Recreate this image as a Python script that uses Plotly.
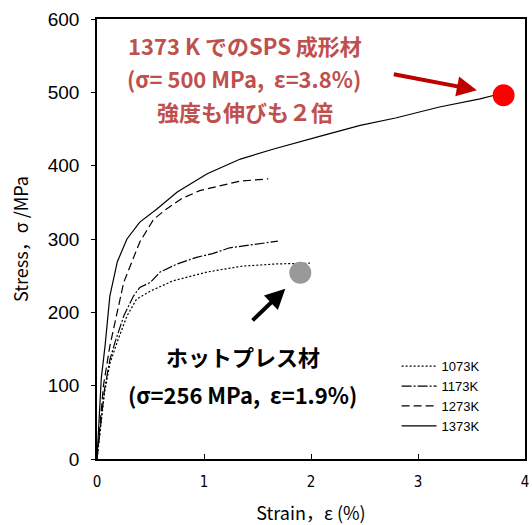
import plotly.graph_objects as go

# Data
temps = ["1073K", "1173K", "1273K", "1373K"]

strain_1073 = [0, 0.03, 0.07, 0.12, 0.19, 0.28, 0.37, 0.5, 0.71, 1.03, 1.36, 1.68, 1.99]
stress_1073 = [0, 40, 90, 130, 160, 195, 218, 229, 243, 255, 263, 266, 267]

strain_1173 = [0, 0.03, 0.07, 0.12, 0.17, 0.25, 0.34, 0.4, 0.5, 0.59, 0.75, 0.93, 1.08, 1.24, 1.5, 1.69]
stress_1173 = [0, 45, 95, 135, 160, 195, 222, 234, 241, 255, 266, 275, 280, 288, 293, 297]

strain_1273 = [0, 0.03, 0.06, 0.12, 0.25, 0.4, 0.53, 0.65, 0.79, 0.96, 1.18, 1.34, 1.6]
stress_1273 = [0, 50, 100, 154, 241, 296, 327, 341, 355, 366, 374, 379, 382]

strain_1373 = [0, 0.02, 0.04, 0.075, 0.12, 0.19, 0.28, 0.4, 0.56, 0.75, 1.03, 1.34, 1.66, 2.08, 2.46, 2.79, 3.2, 3.58, 3.74]
stress_1373 = [0, 55, 110, 154, 222, 269, 300, 323, 341, 364, 389, 409, 423, 440, 455, 465, 480, 491, 497]

sps_strain = [3.80]
sps_stress = [496]
hp_strain = [1.90]
hp_stress = [254]

x_ticks = [0, 1, 2, 3, 4]
y_ticks = [0, 100, 200, 300, 400, 500, 600]

fig = go.Figure()
styles = [("1073K", strain_1073, stress_1073, "2px,2px"),
          ("1173K", strain_1173, stress_1173, "10px,2px,2px,2px"),
          ("1273K", strain_1273, stress_1273, "8px,4px"),
          ("1373K", strain_1373, stress_1373, "solid")]
for name, xs, ys, dash in styles:
    fig.add_trace(go.Scatter(x=xs, y=ys, mode="lines", name=name,
                             line=dict(color="black", width=1.2, dash=dash)))

fig.add_trace(go.Scatter(x=sps_strain, y=sps_stress, mode="markers",
                         marker=dict(color="#ff0000", size=22), showlegend=False))
fig.add_trace(go.Scatter(x=hp_strain, y=hp_stress, mode="markers",
                         marker=dict(color="#999999", size=22), showlegend=False))

red = "#c0504d"
jp = "Noto Sans CJK JP"
anns = [
    dict(x=1.38, y=565, text="<b>1373 K でのSPS 成形材</b>", color=red),
    dict(x=1.37, y=520, text="<b>(σ= 500 MPa,  ε=3.8%)</b>", color=red),
    dict(x=1.38, y=475, text="<b>強度も伸びも２倍</b>", color=red),
    dict(x=1.36, y=141, text="<b>ホットプレス材</b>", color="black"),
    dict(x=1.36, y=89, text="<b>(σ=256 MPa,  ε=1.9%)</b>", color="black"),
]
for a in anns:
    fig.add_annotation(x=a["x"], y=a["y"], xref="x", yref="y", text=a["text"], showarrow=False,
                       font=dict(family=jp, size=22, color=a["color"]))

fig.add_annotation(x=3.55, y=503, ax=2.76, ay=525, xref="x", yref="y", axref="x", ayref="y",
                   text="", showarrow=True, arrowhead=2, arrowsize=1, arrowwidth=4, arrowcolor="#c00000")
fig.add_annotation(x=1.76, y=232, ax=1.44, ay=187, xref="x", yref="y", axref="x", ayref="y",
                   text="", showarrow=True, arrowhead=2, arrowsize=1, arrowwidth=4, arrowcolor="black")

fig.update_layout(
    width=532, height=525,
    margin=dict(l=97, r=7, t=19, b=66, autoexpand=False),
    plot_bgcolor="white", paper_bgcolor="white",
    showlegend=True,
    legend=dict(x=0.70, y=0.245, xanchor="left", yanchor="top", bgcolor="rgba(0,0,0,0)",
                font=dict(family="Liberation Sans", size=13, color="black"),
                itemwidth=35, tracegroupgap=0),
    font=dict(family="Liberation Sans", color="black"),
)
fig.update_xaxes(range=[0, 4], tickvals=x_ticks, ticks="inside", ticklen=5, tickcolor="black",
                 showline=True, linecolor="black", linewidth=1.5, mirror=True, showgrid=False,
                 zeroline=False, automargin=False, tickfont=dict(size=15, family="DejaVu Sans Condensed"),
                 ticklabelstandoff=8,
                 title=dict(text="Strain，ε (%)", font=dict(family=jp, size=18), standoff=22))
fig.update_yaxes(range=[0, 600], tickvals=y_ticks, ticks="outside", ticklen=4, tickcolor="black",
                 showline=True, linecolor="black", linewidth=1.5, mirror=True, showgrid=False,
                 zeroline=False, automargin=False, tickfont=dict(size=19, family="Liberation Sans"),
                 ticklabelstandoff=8,
                 title=dict(text="Stress，σ /MPa", font=dict(family=jp, size=18), standoff=14))

fig.write_html("out.html", config={"displayModeBar": False},
               post_script="document.body.style.margin='0';")
